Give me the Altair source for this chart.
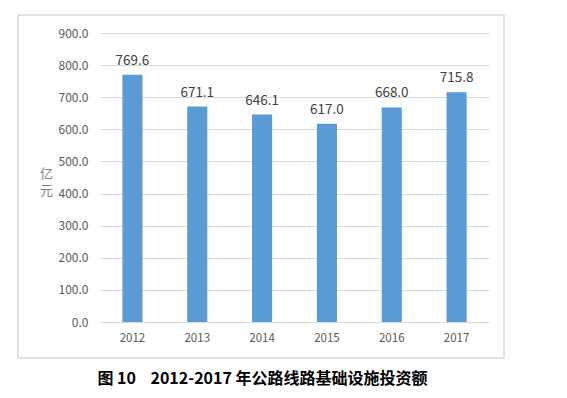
import altair as alt
import pandas as pd

years = ["2012", "2013", "2014", "2015", "2016", "2017"]
values = [769.6, 671.1, 646.1, 617.0, 668.0, 715.8]
y_ticks = [0, 100, 200, 300, 400, 500, 600, 700, 800, 900]
title_text = "图\u00a010\u00a0\u00a0\u00a0\u00a02012-2017\u00a0年公路线路基础设施投资额"

df = pd.DataFrame({"year": years, "value": values})
FONT = "Noto Sans CJK SC"

base = alt.Chart(df).encode(
    x=alt.X("year:N", sort=years,
            scale=alt.Scale(paddingInner=0.69, paddingOuter=0.345),
            axis=alt.Axis(title=None, labelAngle=0, ticks=False, domain=False,
                          labelFont=FONT, labelFontSize=11.5, labelColor="#595959",
                          labelPadding=10)),
    y=alt.Y("value:Q", scale=alt.Scale(domain=[0, 900], nice=False),
            axis=alt.Axis(values=y_ticks, format=".1f", ticks=False, domain=False,
                          labelFont=FONT, labelFontSize=12, labelColor="#595959",
                          labelPadding=12, gridColor="#d9d9d9", gridWidth=1,
                          title=["亿", "元"], titleAngle=0, titleX=-54, titleY=140,
                          titleAlign="center", titleBaseline="middle",
                          titleFont=FONT, titleFontSize=13, titleFontWeight="normal",
                          titleColor="#7f7f7f", titleLineHeight=17)),
)

bars = base.mark_bar(color="#5b9bd5")
labels = base.mark_text(dy=-14, font=FONT, fontSize=13.5, color="#404040").encode(
    text=alt.Text("value:Q", format=".1f"))

frame = alt.Chart(pd.DataFrame({"a": [0]})).mark_rect(
    fill=None, stroke="#d9d9d9", strokeWidth=1.5).encode(
    x=alt.value(-82), x2=alt.value(404), y=alt.value(-18), y2=alt.value(325))

chart = alt.layer(frame, bars, labels).properties(
    width=389, height=289,
    padding={"left": 92, "top": 25, "right": 70, "bottom": 68},
    autosize=alt.AutoSizeParams(type="none"),
    title=alt.TitleParams(title_text, orient="bottom",
                          anchor="middle", dx=-32, offset=12, font=FONT, fontSize=16,
                          fontWeight="bold", color="#000000"),
).configure_view(stroke=None)

chart.save("out.html", embed_options={"renderer": "svg", "actions": False})
